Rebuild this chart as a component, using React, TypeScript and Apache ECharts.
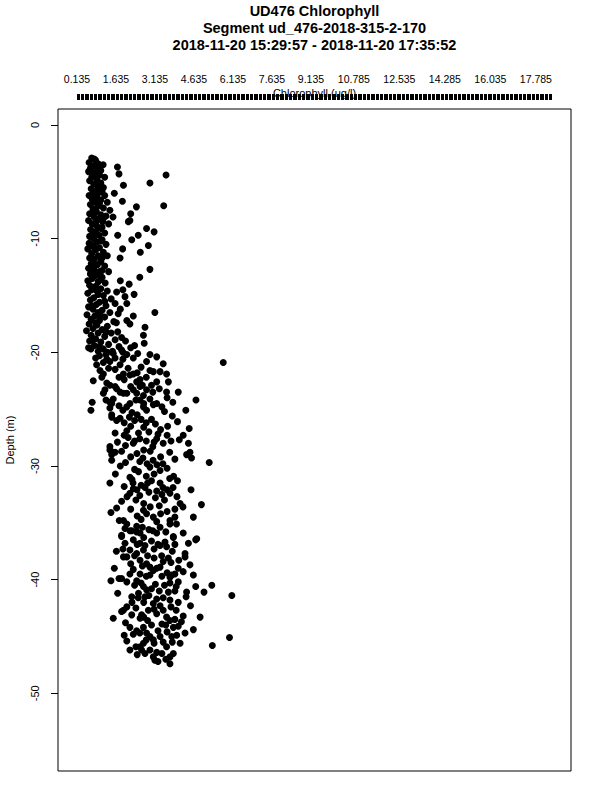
import React, { useEffect, useRef } from "react";
import * as echarts from "echarts";

const titleLines = [
  "UD476 Chlorophyll",
  "Segment ud_476-2018-315-2-170",
  "2018-11-20 15:29:57 - 2018-11-20 17:35:52",
];

const xLabelValues = [0.135, 1.635, 3.135, 4.635, 6.135, 7.635, 9.135, 10.785, 12.535, 14.285, 16.035, 17.785];
const yTickValues = [0, -10, -20, -30, -40, -50];

// [chlorophyll (ug/l), depth (m)]
const bandA: [number, number][] = [
  [0.70,-2.9],[0.85,-3.1],[0.60,-3.3],[0.95,-3.4],[1.14,-3.5],[0.75,-3.6],[0.65,-3.8],[0.90,-3.9],[1.05,-4.0],[0.58,-4.1],
  [0.80,-4.3],[1.00,-4.4],[0.70,-4.6],[1.20,-4.6],[0.90,-4.8],[0.62,-4.9],[1.05,-5.1],[0.78,-5.2],[0.95,-5.4],[1.15,-5.5],
  [0.68,-5.6],[0.88,-5.8],[1.02,-5.9],[0.75,-6.0],
  [1.69,-3.7],[1.75,-4.3],[3.56,-4.4],[2.94,-5.1],[1.92,-5.3],[1.57,-6.0],
  [0.80,-3.0],[1.00,-3.7],[0.72,-4.2],[0.92,-5.0],[1.10,-5.8],
];

const bandB: [number, number][] = [
  [0.60,-6.2],[0.90,-6.3],[1.20,-6.2],[0.72,-6.5],[1.05,-6.6],[0.82,-6.8],[1.30,-6.8],[0.65,-7.0],[0.95,-7.1],[1.15,-7.3],
  [0.75,-7.4],[1.40,-7.5],[0.88,-7.6],[0.62,-7.8],[1.05,-7.9],[1.25,-8.0],[0.80,-8.1],[0.95,-8.3],[0.58,-8.4],[1.12,-8.5],
  [0.72,-8.7],[1.35,-8.7],[0.90,-8.9],[1.05,-9.1],[0.66,-9.2],[0.85,-9.4],[1.20,-9.5],[0.98,-9.7],[0.62,-9.8],[0.78,-10.0],
  [1.88,-6.7],[2.42,-7.2],[3.47,-7.1],[2.20,-7.8],[2.17,-8.4],[2.11,-8.5],[1.52,-8.1],[2.81,-9.1],[3.10,-9.4],[2.49,-9.7],
  [2.24,-10.1],[1.70,-9.7],
  [0.85,-6.4],[1.00,-6.9],[0.78,-7.7],[1.15,-8.2],[0.85,-8.6],[1.10,-9.0],[0.75,-9.6],
];

const bandC: [number, number][] = [
  [1.10,-10.1],[0.90,-10.3],[0.60,-10.4],[1.25,-10.5],[0.75,-10.6],[1.00,-10.8],[0.55,-10.9],[0.85,-11.0],[1.15,-11.2],[0.70,-11.3],
  [0.95,-11.5],[1.30,-11.5],[0.62,-11.7],[0.80,-11.8],[1.05,-12.0],[0.68,-12.2],[0.92,-12.3],[1.20,-12.4],[0.58,-12.6],[0.78,-12.7],
  [1.00,-12.9],[1.35,-12.9],[0.65,-13.1],[0.88,-13.2],[1.10,-13.4],[0.72,-13.5],[0.55,-13.7],[0.95,-13.8],[1.22,-13.9],
  [2.88,-10.6],[2.57,-11.2],[1.89,-10.9],[1.79,-11.7],[2.94,-12.7],[2.55,-13.4],[1.80,-13.7],[2.14,-14.0],
  [1.05,-10.2],[0.80,-10.8],[1.10,-11.7],[0.75,-12.1],[1.10,-12.8],[0.80,-13.3],[1.05,-13.6],
];

const bandD: [number, number][] = [
  [0.62,-14.1],[0.85,-14.2],[1.05,-14.4],[0.70,-14.5],[1.30,-14.6],[0.55,-14.8],[0.95,-14.9],[1.15,-15.0],[0.78,-15.2],[1.45,-15.3],
  [0.65,-15.4],[1.00,-15.6],[0.88,-15.8],[1.25,-15.9],[0.58,-16.0],[0.75,-16.2],[1.10,-16.3],[0.95,-16.5],[1.40,-16.5],[0.52,-16.7],
  [0.82,-16.8],[1.20,-16.9],[0.68,-17.1],[1.00,-17.2],[1.55,-17.3],[0.60,-17.5],[0.90,-17.6],[1.30,-17.7],[0.75,-17.9],[1.10,-18.0],
  [0.50,-18.1],[0.95,-18.3],[1.45,-18.3],[0.68,-18.5],[1.20,-18.6],[0.85,-18.8],[1.60,-18.9],[0.62,-19.0],[1.05,-19.1],[1.35,-19.3],
  [0.80,-19.4],[0.58,-19.6],[1.15,-19.7],[0.95,-19.9],[1.50,-19.9],
  [1.90,-14.5],[1.66,-14.7],[2.33,-14.9],[1.98,-15.1],[2.05,-15.7],[1.60,-15.7],[3.13,-16.5],[1.72,-16.6],[2.05,-17.2],[2.17,-17.5],
  [2.75,-17.8],[2.69,-18.5],[2.72,-19.2],[1.85,-19.8],[1.53,-20.1],[2.47,-20.1],[2.94,-20.2],[3.20,-20.4],
  [1.70,-18.2],[1.85,-18.7],[2.00,-19.0],[1.75,-19.5],[2.20,-19.6],[1.90,-20.0],[2.35,-19.4],[1.65,-17.4],[1.80,-16.2],[2.30,-16.8],
  [0.90,-14.6],[1.20,-15.5],[0.70,-15.9],[1.05,-16.8],[0.85,-17.4],[1.25,-18.2],[0.75,-18.9],[1.00,-19.5],[1.25,-20.2],
];

const bandE: [number, number][] = [
  [0.67,-19.7],[0.89,-21.1],[1.02,-21.6],[1.15,-21.9],[1.09,-22.2],[0.76,-22.5],[1.28,-20.6],[1.40,-20.8],[1.79,-21.1],[1.92,-21.9],
  [2.17,-22.0],[2.43,-22.6],[2.56,-22.4],[2.81,-20.8],[2.94,-21.6],[3.07,-21.7],[3.33,-21.7],[3.45,-21.0],[3.58,-21.9],[3.20,-22.6],
  [3.58,-23.5],[4.03,-23.5],[3.82,-24.4],[4.71,-24.2],[4.32,-25.1],[0.72,-24.4],[0.67,-25.1],[1.28,-22.7],[1.21,-23.3],[1.15,-23.6],
  [1.53,-24.1],[1.47,-24.5],[1.40,-24.9],[1.66,-23.2],[1.79,-23.5],[1.92,-23.6],[2.05,-24.8],[2.17,-24.5],[2.30,-23.3],[2.43,-23.6],
  [2.56,-23.0],[2.69,-23.8],[2.81,-23.3],[2.94,-24.1],[3.07,-24.6],[3.20,-24.5],[2.56,-24.2],[2.69,-24.8],[2.81,-25.1],[5.76,-20.9],
  [1.00,-20.3],[1.30,-20.0],[1.60,-20.5],[1.90,-20.6],[2.05,-20.2],[0.85,-20.5],[1.15,-20.9],
  [2.30,-20.5],[2.60,-21.3],[2.45,-21.8],[2.80,-22.2],[3.00,-22.9],[2.20,-23.0],[1.95,-22.4],[2.70,-24.5],[3.30,-23.2],[3.40,-24.8],
  [2.10,-21.4],[1.60,-21.5],[3.65,-22.6],[1.40,-22.9],[1.75,-24.7],
  [1.35,-21.4],[1.75,-22.2],[2.30,-21.9],[2.65,-22.9],[3.05,-23.5],[2.05,-23.6],[2.40,-24.2],[3.60,-24.0],[1.25,-24.2],[1.60,-23.0],
];

const bandF: [number, number][] = [
  [1.47,-25.7],[1.66,-26.0],[1.79,-25.8],[1.95,-26.2],[2.05,-26.9],[2.20,-26.5],[2.35,-26.0],[2.45,-25.5],[2.60,-25.9],[2.80,-26.2],
  [3.00,-25.9],[3.15,-26.3],[3.35,-26.8],[2.50,-27.1],[2.90,-27.0],[3.62,-26.5],[4.45,-26.7],[4.22,-27.3],[4.07,-27.7],[4.42,-28.0],
  [4.48,-28.8],[4.35,-29.0],[4.54,-29.3],[5.22,-29.7],[1.40,-28.3],[1.53,-28.8],[1.47,-29.0],
  [1.69,-27.9],[2.00,-28.2],[2.30,-28.0],[2.10,-27.5],[2.55,-27.6],[2.80,-27.8],[3.05,-28.3],[3.20,-27.6],[3.45,-28.0],[3.60,-27.3],
  [2.70,-28.6],[1.85,-28.7],[2.44,-28.9],[2.67,-29.3],[2.83,-29.8],[2.94,-30.1],[3.06,-29.5],[3.21,-29.9],[3.33,-30.4],[3.44,-29.8],
  [3.60,-30.2],[1.40,-24.4],[1.47,-25.5],[1.60,-27.1],[1.40,-28.6],[1.60,-28.8],[1.47,-29.5],
  [2.20,-29.2],[2.00,-29.7],[1.80,-30.0],[3.70,-28.8],[3.90,-29.4],[4.00,-26.1],[3.80,-25.6],[2.25,-25.3],[1.90,-25.1],[3.50,-25.2],
  [2.15,-25.7],[2.70,-26.6],[3.25,-27.2],[2.35,-27.8],[2.95,-28.7],[3.35,-29.2],[2.55,-29.6],[3.10,-27.9],[1.95,-27.3],[3.75,-27.8],
];

const bandG: [number, number][] = [
  [1.61,-30.7],[1.40,-31.5],[2.17,-31.0],[2.29,-31.5],[2.44,-32.1],[2.17,-32.4],[2.06,-32.7],[3.33,-31.5],[3.44,-31.9],[3.60,-32.1],
  [3.71,-32.4],[3.83,-31.9],[3.98,-32.7],[4.10,-33.3],[4.21,-33.6],[4.52,-32.1],[4.92,-33.4],[4.61,-34.5],[1.44,-34.1],[1.85,-33.1],
  [1.92,-34.8],[2.05,-35.1],[2.69,-33.9],[2.81,-34.2],[3.07,-34.5],[3.20,-34.9],[3.71,-34.8],[3.90,-34.5],[1.66,-33.7],[1.76,-34.8],
  [2.50,-30.5],[2.80,-30.9],[3.00,-31.3],[2.60,-31.7],[2.90,-32.3],[3.15,-32.8],[2.40,-33.0],[2.70,-33.3],[3.30,-33.5],[3.50,-33.0],
  [3.60,-34.0],[2.20,-33.8],[2.45,-34.4],[1.95,-31.8],[3.85,-30.9],[4.00,-31.3],[2.35,-30.3],[3.10,-30.7],
  [2.25,-31.2],[2.75,-31.9],[3.20,-32.2],[2.55,-32.6],[3.40,-32.5],[2.95,-33.6],[2.60,-34.7],[3.35,-34.2],[2.30,-32.0],[3.90,-33.8],
  [2.85,-31.5],[3.70,-31.1],
];

const bandH: [number, number][] = [
  [2.17,-35.7],[2.43,-35.8],[3.20,-35.9],[3.33,-35.4],[3.96,-35.1],[4.22,-35.9],[4.74,-36.4],[3.84,-36.2],[1.85,-36.1],[2.24,-35.7],
  [1.98,-35.5],[2.43,-35.3],[2.56,-35.9],[3.71,-35.1],[3.84,-36.3],[4.70,-36.5],[4.42,-36.8],[1.85,-36.2],[1.98,-36.8],[2.17,-37.4],
  [2.05,-38.0],[1.92,-38.0],[3.33,-37.0],[3.58,-37.1],[3.52,-36.7],[3.39,-37.9],[3.65,-38.1],
  [2.56,-36.8],[2.69,-37.4],[2.43,-37.7],[2.56,-38.3],[2.81,-38.6],[2.94,-38.9],[3.07,-39.2],[3.20,-39.0],[3.33,-38.9],
  [4.29,-37.7],[4.29,-38.0],[4.48,-38.7],[4.61,-39.6],[4.22,-39.3],[4.03,-39.0],[3.90,-39.5],[3.71,-39.8],[1.57,-39.0],[1.44,-40.1],
  [1.75,-39.9],[1.85,-39.9],[2.05,-40.2],[2.17,-39.5],[2.43,-40.1],[2.56,-39.5],[2.94,-39.6],
  [2.30,-36.5],[2.70,-36.3],[2.90,-35.6],[3.00,-36.6],[3.10,-37.3],[2.85,-37.9],[3.45,-38.4],[2.20,-38.6],[1.90,-37.3],[3.60,-39.4],
  [2.30,-39.1],[1.65,-37.5],[2.80,-39.7],[3.80,-37.5],[4.05,-38.3],
  [2.65,-35.4],[3.05,-35.7],[3.55,-35.8],[2.45,-36.9],[2.75,-37.0],[3.25,-36.9],[3.90,-36.9],[2.35,-37.9],[3.10,-38.1],[3.75,-38.5],
  [2.65,-38.8],[3.40,-39.7],
];

const bandI: [number, number][] = [
  [2.69,-40.6],[2.81,-40.9],[3.78,-39.6],[3.71,-40.3],[4.03,-40.2],[4.35,-41.1],[4.33,-41.5],[3.65,-41.1],[3.71,-41.8],[4.03,-42.0],
  [5.02,-41.1],[5.32,-40.5],[6.09,-41.4],[2.24,-41.5],[2.49,-41.6],[2.05,-42.4],[1.92,-42.7],[1.85,-42.8],[1.53,-43.4],
  [2.17,-44.2],[2.43,-44.5],[2.24,-43.1],[2.62,-43.1],[2.56,-43.4],[2.88,-42.7],[3.07,-42.1],[3.20,-41.7],[3.33,-42.3],[3.45,-42.7],
  [3.58,-43.3],[3.71,-43.6],[3.84,-44.2],[4.22,-43.2],[4.87,-43.3],[4.61,-44.4],[4.03,-44.1],[2.69,-44.2],[2.81,-44.7],[2.94,-45.0],
  [3.07,-45.3],[2.69,-45.6],[2.56,-45.9],[2.62,-46.2],[2.05,-45.4],[2.17,-46.2],[3.33,-45.0],[3.45,-45.5],[3.58,-45.9],[3.78,-45.0],
  [3.97,-44.9],[4.10,-45.6],[4.29,-44.7],[5.34,-45.8],[6.00,-45.1],[2.94,-46.2],[3.07,-46.8],[3.13,-47.1],[3.71,-46.8],[3.71,-47.4],
  [3.84,-46.5],
  [2.35,-40.5],[2.50,-41.2],[2.90,-41.4],[3.00,-40.8],[3.30,-41.0],[3.50,-40.5],[3.90,-41.0],[2.70,-42.0],[2.40,-42.5],[2.85,-43.6],
  [3.20,-43.0],[3.40,-43.9],[3.00,-44.0],[2.30,-44.8],[3.60,-44.6],[2.00,-43.8],[3.20,-46.4],[2.80,-45.3],[3.55,-47.0],[2.45,-46.6],
  [1.70,-41.2],[3.95,-42.7],[4.15,-43.7],[4.50,-42.3],[4.70,-40.6],[3.25,-44.5],[1.95,-44.9],
  [2.60,-40.3],[3.15,-40.4],[3.95,-40.6],[2.75,-41.5],[3.45,-41.6],[2.25,-42.0],[3.10,-42.6],[3.75,-42.4],[2.70,-43.3],[3.55,-44.0],
  [3.90,-43.5],[2.55,-44.7],[3.10,-45.6],[3.80,-45.5],[2.40,-45.9],[3.40,-46.5],[2.75,-46.5],[3.25,-47.2],
];

const FONT = "'Liberation Sans', Arial, Helvetica, sans-serif";

export default function App() {
  const ref = useRef<HTMLDivElement>(null);

  useEffect(() => {
    document.body.style.margin = "0";
    if (!ref.current) return;
    const chart = echarts.init(ref.current, undefined, { renderer: "svg" });

    const points = [...bandA, ...bandB, ...bandC, ...bandD, ...bandE, ...bandF, ...bandG, ...bandH, ...bandI];

    const xTicks: number[] = [];
    for (let i = 0; i <= 365; i++) xTicks.push(+(0.135 + i * 0.05).toFixed(3));

    chart.setOption({
      animation: false,
      backgroundColor: "#ffffff",
      textStyle: { fontFamily: FONT },
      grid: {
        left: 58,
        right: 29,
        top: 109,
        bottom: 29,
        show: true,
        borderColor: "#000",
        borderWidth: 1,
        backgroundColor: "transparent",
        containLabel: false,
        outerBoundsMode: "none",
      },
      graphic: titleLines.map((t, i) => ({
        type: "text",
        x: 314.5,
        y: 11 + i * 17,
        style: {
          text: t,
          fill: "#000",
          font: `bold 14.5px ${FONT}`,
          textAlign: "center",
          textVerticalAlign: "middle",
        },
      })),
      xAxis: {
        type: "value",
        position: "top",
        min: -0.596,
        max: 19.135,
        offset: 9,
        axisLine: { show: false, onZero: false },
        splitLine: { show: false },
        axisTick: {
          show: true,
          length: 6,
          customValues: xTicks,
          lineStyle: { color: "#000", width: 1 },
        },
        axisLabel: {
          show: true,
          customValues: xLabelValues,
          formatter: (v: number) => v.toFixed(3),
          color: "#000",
          fontSize: 10.5,
          lineHeight: 11,
          fontFamily: FONT,
          margin: 16,
        },
        name: "Chlorophyll (ug/l)",
        nameLocation: "middle",
        nameGap: 2,
        nameMoveOverlap: false,
        nameTextStyle: { color: "#000", fontSize: 11, lineHeight: 11, fontFamily: FONT },
      },
      yAxis: {
        type: "value",
        min: -56.84,
        max: 1.41,
        axisLine: { show: false, onZero: false },
        splitLine: { show: false },
        axisTick: {
          show: true,
          length: 7,
          customValues: yTickValues,
          lineStyle: { color: "#000", width: 1 },
        },
        axisLabel: {
          show: true,
          customValues: yTickValues,
          rotate: 90,
          color: "#000",
          fontSize: 11,
          fontFamily: FONT,
          margin: 18,
        },
        name: "Depth (m)",
        nameLocation: "middle",
        nameRotate: 90,
        nameGap: 43,
        nameMoveOverlap: false,
        nameTextStyle: { color: "#000", fontSize: 11, fontFamily: FONT },
      },
      series: [
        {
          type: "scatter",
          data: points,
          symbol: "circle",
          symbolSize: 7,
          itemStyle: { color: "#000", opacity: 1 },
          silent: true,
        },
      ],
    });

    return () => chart.dispose();
  }, []);

  return <div ref={ref} style={{ width: 600, height: 800 }} />;
}
